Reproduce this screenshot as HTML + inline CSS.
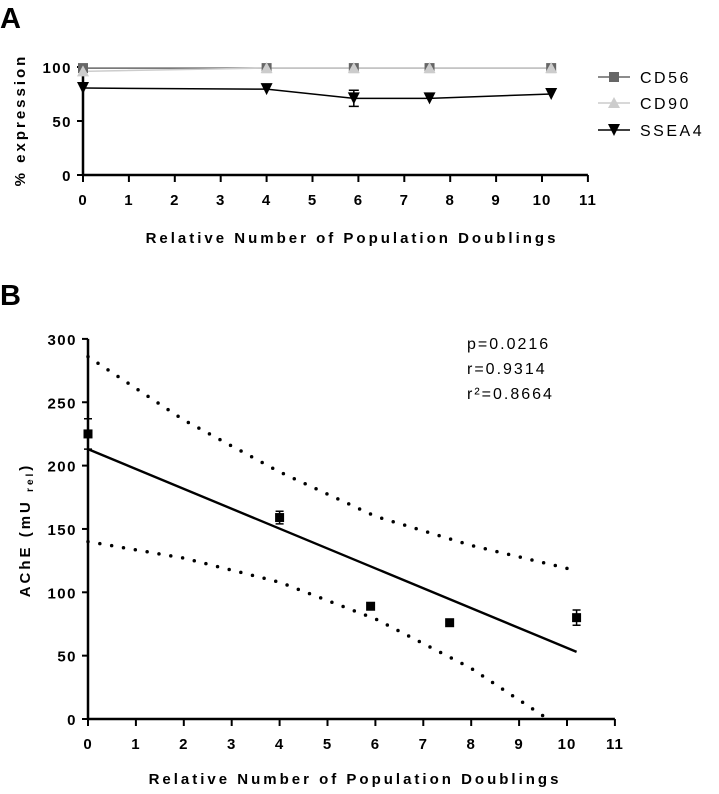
<!DOCTYPE html>
<html><head><meta charset="utf-8"><style>
body{margin:0;background:#fff}
svg{display:block;font-family:"Liberation Sans",Arial,sans-serif}
.t{font-size:15px;font-weight:bold;fill:#000}
.ttl{font-size:15px;font-weight:bold;letter-spacing:3px}
</style></head><body>
<svg id="s" width="719" height="794">
<text x="0" y="28" font-size="29" font-weight="bold">A</text>
<text x="0" y="305" font-size="29" font-weight="bold">B</text>
<g id="ga"></g>
<g id="gb"></g>
</svg>
<script>
const NS="http://www.w3.org/2000/svg";
function mk(p,t,a){const e=document.createElementNS(NS,t);for(const k in a)e.setAttribute(k,a[k]);p.appendChild(e);return e;}
// Chart A data
const aX=[0,4,5.9,7.55,10.2];
const aCD56=[99,99,99,99,99];
const aCD90=[96,99,99,99,99];
const aSSEA4=[80.5,79.5,71,71,75];
const aSSEA4Err=[0,0,7.5,0,0];
const aYTicks=[0,50,100];
const xTicks=[0,1,2,3,4,5,6,7,8,9,10,11];
// Chart B data
const bX=[0,4,5.9,7.55,10.2];
const bY=[225,159,89,76,80];
const bErr=[12,5,0,0,6];
const bFitX=[0,10.2];
const bFitY=[213,53];
const bUpX=[0,2,4,6,8,10.1];
const bUpY=[286,236,195,160,137,118];
const bLoX=[0,2,4,6,8,9.6];
const bLoY=[140,127,108,79,40,0];
const bYTicks=[0,50,100,150,200,250,300];

const ga=document.getElementById('ga'),gb=document.getElementById('gb');
const ax=v=>83+v*45.9, ay=v=>175-v*1.08;
const bx=v=>88+v*47.9, by=v=>719-v*1.267;

function axes(g,xf,yf,y0,yTicks,xlen,yTop){
  let l=mk(g,'line',{x1:xf(0),y1:y0,x2:xf(11),y2:y0,stroke:'#000','stroke-width':2.5});
  
  l=mk(g,'line',{x1:xf(0),y1:y0,x2:xf(0),y2:yTop,stroke:'#000','stroke-width':2.5});
  
  xTicks.forEach(v=>{
    mk(g,'line',{x1:xf(v),y1:y0,x2:xf(v),y2:y0+7,stroke:'#000','stroke-width':2});
    const t=mk(g,'text',{x:xf(v),y:y0+30,'text-anchor':'middle',class:'t','letter-spacing':1});t.textContent=v;
    
  });
  yTicks.forEach(v=>{
    mk(g,'line',{x1:xf(0)-6,y1:yf(v),x2:xf(0),y2:yf(v),stroke:'#000','stroke-width':2});
    const t=mk(g,'text',{x:xf(0)-11,y:yf(v)+6,'text-anchor':'end',class:'t','letter-spacing':1.5});t.textContent=v;
    
  });
}
axes(ga,ax,ay,175,aYTicks,11,ay(100)-2);
axes(gb,bx,by,719,bYTicks,11,by(300));

function pl(g,xs,ys,xf,yf,attrs,name){
  const p=mk(g,'polyline',Object.assign({points:xs.map((x,i)=>xf(x)+','+yf(ys[i])).join(' '),fill:'none'},attrs));
  return p;
}
pl(ga,aX,aCD56,ax,ay,{stroke:'#666','stroke-width':1.5},'cd56-line');
pl(ga,aX,aCD90,ax,ay,{stroke:'#ccc','stroke-width':1.5},'cd90-line');
pl(ga,aX,aSSEA4,ax,ay,{stroke:'#000','stroke-width':1.5},'ssea4-line');
aX.forEach((x,i)=>{
  let e=mk(ga,'rect',{x:ax(x)-5,y:ay(aCD56[i])-5,width:10,height:10,fill:'#666'});
  
  const cx=ax(x),cy=ay(aCD90[i]);
  e=mk(ga,'polygon',{points:`${cx},${cy-6} ${cx-6},${cy+5} ${cx+6},${cy+5}`,fill:'#ccc'});
  
  const sy=ay(aSSEA4[i]);
  if(aSSEA4Err[i]){const t=ay(aSSEA4[i]+aSSEA4Err[i]),b=ay(aSSEA4[i]-aSSEA4Err[i]);
    mk(ga,'path',{d:`M${cx},${t}V${b}M${cx-5},${t}H${cx+5}M${cx-5},${b}H${cx+5}`,stroke:'#000','stroke-width':1.5});}
  e=mk(ga,'polygon',{points:`${cx-6},${sy-6} ${cx+6},${sy-6} ${cx},${sy+6}`,fill:'#000'});
  
});
const leg=[['CD56','#666','sq',77],['CD90','#ccc','tri',103],['SSEA4','#000','inv',130]];
leg.forEach(([n,c,m,y])=>{
  const g=mk(ga,'g',{});
  mk(g,'line',{x1:598,y1:y,x2:630,y2:y,stroke:c,'stroke-width':1.5});
  if(m=='sq')mk(g,'rect',{x:609,y:y-5,width:10,height:10,fill:c});
  if(m=='tri')mk(g,'polygon',{points:`614,${y-6} 608,${y+5} 620,${y+5}`,fill:c});
  if(m=='inv')mk(g,'polygon',{points:`608,${y-6} 620,${y-6} 614,${y+6}`,fill:c});
  const t=mk(g,'text',{x:640,y:y+6,'font-size':16,'letter-spacing':2.5});t.textContent=n;
});
let t=mk(ga,'text',{x:25,y:120,transform:'rotate(-90 25 120)','text-anchor':'middle',class:'ttl','font-size':14});t.textContent='% expression';

t=mk(ga,'text',{x:352,y:243,'text-anchor':'middle',class:'ttl'});t.textContent='Relative Number of Population Doublings';


pl(gb,bUpX,bUpY,bx,by,{stroke:'#000','stroke-width':3.5,'stroke-dasharray':'0 12','stroke-linecap':'round'},'upper-confidence-band');
pl(gb,bLoX,bLoY,bx,by,{stroke:'#000','stroke-width':3.5,'stroke-dasharray':'0 12','stroke-linecap':'round'},'lower-confidence-band');
pl(gb,bFitX,bFitY,bx,by,{stroke:'#000','stroke-width':2.4},'regression-line');
bX.forEach((x,i)=>{
  const cx=bx(x),cy=by(bY[i]);
  if(bErr[i]){const a=by(bY[i]+bErr[i]),b=by(bY[i]-bErr[i]);
    mk(gb,'path',{d:`M${cx},${a}V${b}M${cx-4},${a}H${cx+4}M${cx-4},${b}H${cx+4}`,stroke:'#000','stroke-width':1.5});}
  const e=mk(gb,'rect',{x:cx-4.5,y:cy-4.5,width:9,height:9,fill:'#000'});
  
});
['p=0.0216','r=0.9314','r²=0.8664'].forEach((s,i)=>{
  const e=mk(gb,'text',{x:467,y:349+i*25,'font-size':16,'letter-spacing':2});e.textContent=s;
  
});
t=mk(gb,'text',{x:30,y:530,transform:'rotate(-90 30 530)','text-anchor':'middle',class:'ttl','font-size':15});
t.innerHTML='AChE (mU <tspan font-size="10" dy="3">rel</tspan><tspan dy="-3">)</tspan>';

t=mk(gb,'text',{x:355,y:784,'text-anchor':'middle',class:'ttl'});t.textContent='Relative Number of Population Doublings';

</script>
</body></html>
